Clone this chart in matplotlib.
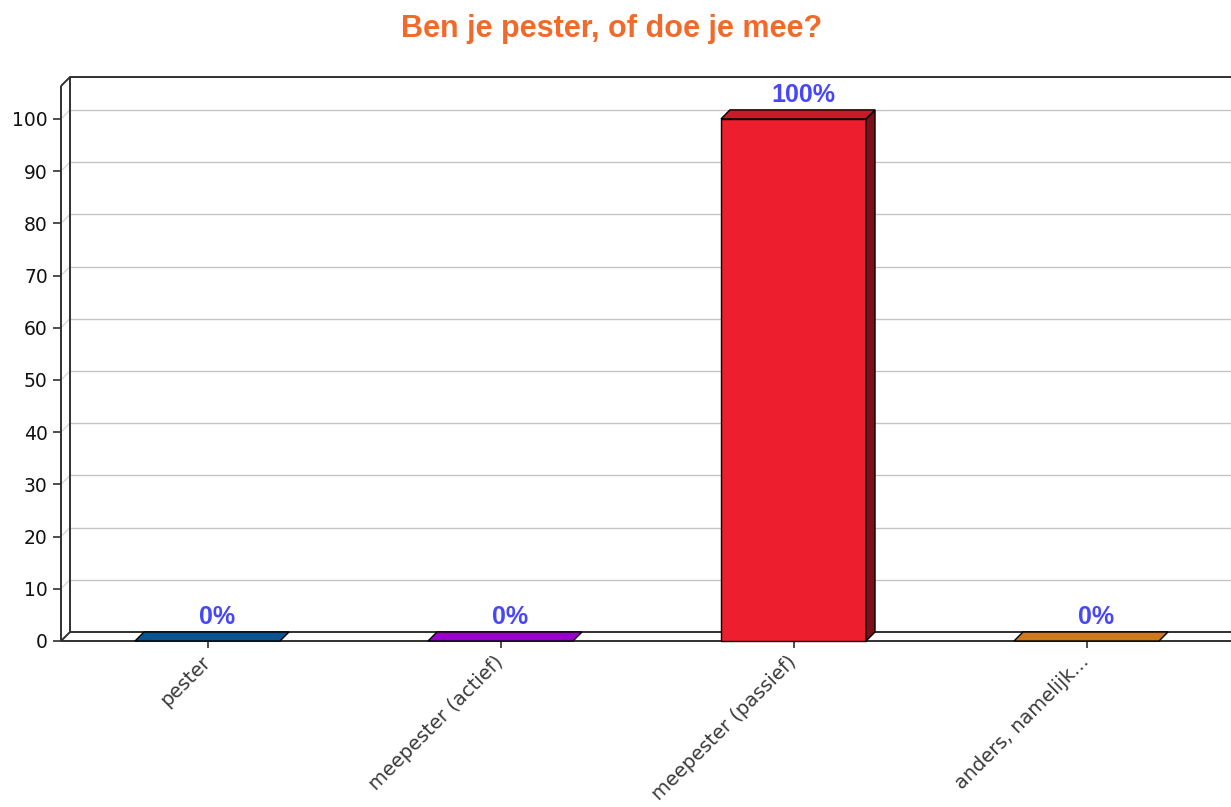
import matplotlib
matplotlib.use("Agg")
import matplotlib.pyplot as plt
from matplotlib.patches import Polygon, Rectangle
import numpy as np

title = "Ben je pester, of doe je mee?"
categories = ["pester", "meepester (actief)", "meepester (passief)", "anders, namelijk..."]
values = [0, 0, 100, 0]
value_labels = ["0%", "0%", "100%", "0%"]
bar_colors = ["#0c63ae", "#b400f0", "#ed1f2e", "#f58d23"]
yticks = list(range(0, 101, 10))


def shade(color, f):
    rgb = np.array(matplotlib.colors.to_rgb(color))
    return tuple(np.clip(rgb * f, 0, 1))


W, H = 1231, 807
fig = plt.figure(figsize=(W / 100, H / 100), dpi=100)

# front plot area in pixels
left, right, bottom, top = 61, 1233, 641, 86
ax = fig.add_axes([left / W, (H - bottom) / H, (right - left) / W, (bottom - top) / H])
xmin, xmax = -0.5, len(categories) - 0.5
ymax = 106.3
ax.set_xlim(xmin, xmax)
ax.set_ylim(0, ymax)
for s in ax.spines.values():
    s.set_visible(False)

# 3d depth offset in data units
depth = 9
ppx = (right - left) / (xmax - xmin)
ppy = (bottom - top) / ymax
DX, DY = depth / ppx, depth / ppy

edge = "#303030"
lkw = dict(clip_on=False, solid_capstyle="butt")

# grid on back wall
for t in yticks[1:]:
    ax.plot([xmin + DX, xmax + DX], [t + DY, t + DY], color="#c4c4c4", lw=1, zorder=1, **lkw)
    ax.plot([xmin, xmin + DX], [t, t + DY], color="#d8d8d8", lw=1, zorder=1, **lkw)

# wall / floor outlines
ax.plot([xmin + DX, xmin + DX, xmax + DX], [DY, ymax + DY, ymax + DY], color=edge, lw=1.4, zorder=2, **lkw)
ax.plot([xmin, xmin + DX], [ymax, ymax + DY], color=edge, lw=1.4, zorder=2, **lkw)
ax.plot([xmin + DX, xmax + DX], [DY, DY], color=edge, lw=1.4, zorder=2, **lkw)
ax.plot([xmin, xmin + DX], [0, DY], color=edge, lw=1.4, zorder=2, **lkw)
ax.plot([xmin, xmax], [0, 0], color=edge, lw=1.4, zorder=2, **lkw)
ax.plot([xmin, xmin], [0, ymax], color=edge, lw=1.4, zorder=6, **lkw)

# bars
bw = 0.495
for i, (v, c) in enumerate(zip(values, bar_colors)):
    x0, x1 = i - bw / 2, i + bw / 2
    if v > 0:
        ax.add_patch(Rectangle((x0, 0), bw, v, facecolor=c, edgecolor="black", lw=1, zorder=4, clip_on=False))
        ax.add_patch(Polygon([(x1, 0), (x1 + DX, DY), (x1 + DX, v + DY), (x1, v)], closed=True,
                             facecolor=shade(c, 0.52), edgecolor="black", lw=1, zorder=4, clip_on=False))
    ax.add_patch(Polygon([(x0, v), (x1, v), (x1 + DX, v + DY), (x0 + DX, v + DY)], closed=True,
                         facecolor=shade(c, 0.85), edgecolor="black", lw=1, zorder=5, clip_on=False))
    ax.annotate(value_labels[i], xy=(i, v), xytext=(10, 17), textcoords="offset pixels",
                ha="center", va="baseline", fontsize=18, fontweight="bold",
                color="#4646ff", family="Liberation Sans", annotation_clip=False)

ax.set_yticks(yticks)
ax.set_yticklabels([str(t) for t in yticks], fontsize=13.5, family="DejaVu Sans", color="#111111")
ax.tick_params(axis="y", length=5.5, width=1.2, color=edge, pad=4)
ax.set_xticks(range(len(categories)))
ax.set_xticklabels(categories, rotation=45, ha="right", va="center", rotation_mode="anchor",
                   fontsize=14, family="DejaVu Sans", color="#3a3a3a")
ax.tick_params(axis="x", length=5, width=1.2, color=edge, pad=8)

fig.text(612 / W, (H - 37) / H, title, ha="center", va="baseline", fontsize=22,
         fontweight="bold", color="#f26a2a", family="Liberation Sans")

fig.savefig("out.png", dpi=100)
